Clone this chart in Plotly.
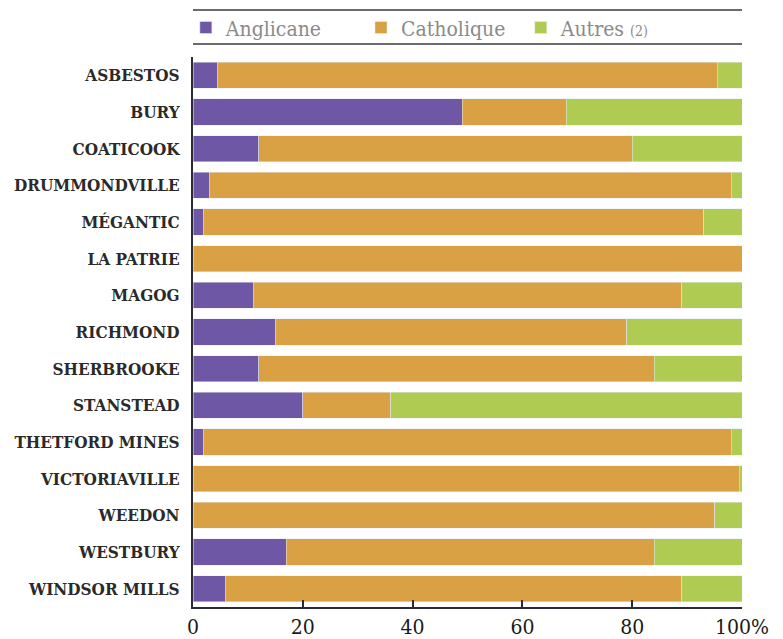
import plotly.graph_objects as go

# Religious affiliation by town (percent of population)
villes = ['ASBESTOS', 'BURY', 'COATICOOK', 'DRUMMONDVILLE', 'MÉGANTIC', 'LA PATRIE',
          'MAGOG', 'RICHMOND', 'SHERBROOKE', 'STANSTEAD', 'THETFORD MINES',
          'VICTORIAVILLE', 'WEEDON', 'WESTBURY', 'WINDSOR MILLS']
anglicane = [4.5, 49, 12, 3, 2, 0, 11, 15, 12, 20, 2, 0, 0, 17, 6]
catholique = [91, 19, 68, 95, 91, 100, 78, 64, 72, 16, 96, 99.5, 95, 67, 83]
autres = [4.5, 32, 20, 2, 7, 0, 11, 21, 16, 64, 2, 0.5, 5, 16, 11]

tick_vals = [0, 20, 40, 60, 80, 100]
tick_text = ['0', '20', '40', '60', '80', '100%']

PURPLE = '#6E58A5'
ORANGE = '#D9A143'
GREEN = '#AFCB52'
SERIF = 'DejaVu Serif Condensed, Liberation Serif, serif'

fig = go.Figure()

fig.add_trace(go.Bar(y=villes, x=anglicane, orientation='h', name='Anglicane',
                     marker=dict(color=PURPLE), legend='legend'))
fig.add_trace(go.Bar(y=villes, x=catholique, orientation='h', name='Catholique',
                     marker=dict(color=ORANGE), legend='legend2'))
fig.add_trace(go.Bar(y=villes, x=autres, orientation='h',
                     name='Autres <span style="font-size:14px">(2)</span>',
                     marker=dict(color=GREEN), legend='legend3'))

legend_style = dict(orientation='h', yanchor='middle', y=1.053, xanchor='left',
                    bgcolor='rgba(0,0,0,0)',
                    font=dict(family=SERIF, size=21, color='#8a8a8a'))

# rules above and below the legend
for yy in [1.0855, 1.0236]:
    fig.add_shape(type='line', xref='paper', yref='paper', x0=0, x1=1, y0=yy, y1=yy,
                  line=dict(color='#6b6b6b', width=2))

# the page body adds an 8px offset, so margins are shifted to compensate
fig.update_layout(
    barmode='stack',
    bargap=0.29,
    width=783,
    height=639,
    margin=dict(l=185, r=49, t=49, b=40, autoexpand=False),
    plot_bgcolor='white',
    paper_bgcolor='white',
    showlegend=True,
    legend=dict(x=-0.013, **legend_style),
    legend2=dict(x=0.306, **legend_style),
    legend3=dict(x=0.597, **legend_style),
)

fig.update_xaxes(range=[0, 100], tickvals=tick_vals, ticktext=tick_text,
                 showgrid=False, zeroline=False,
                 showline=True, linecolor='#2b2b33', linewidth=2,
                 ticks='inside', ticklen=7, tickwidth=2, tickcolor='#2b2b33',
                 ticklabelstandoff=0,
                 tickfont=dict(family=SERIF, size=21, color='#1a1a1a'))

fig.update_yaxes(autorange='reversed', showgrid=False,
                 showline=True, linecolor='#2b2b33', linewidth=2,
                 ticks='', ticklabelstandoff=8,
                 tickfont=dict(family=SERIF, size=17, color='#2a2a2a', weight='bold'))

fig.write_html("out.html")
